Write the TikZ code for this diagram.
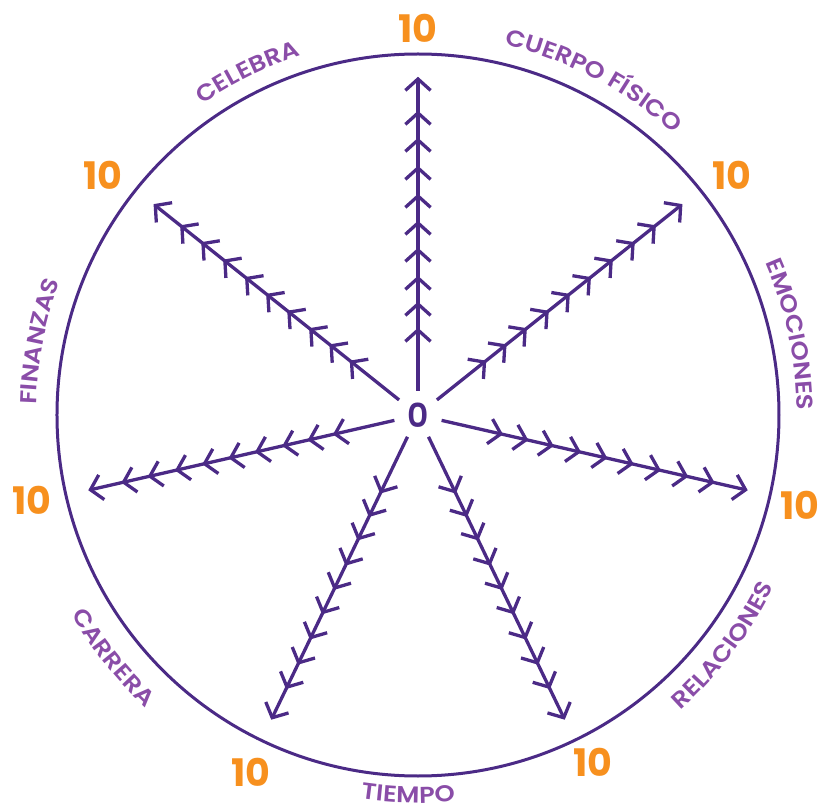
\documentclass[tikz,border=0pt]{standalone}
\usepackage{fontspec}
\setmainfont{Poppins}
\usetikzlibrary{decorations.text}
\definecolor{wheelline}{HTML}{4B2A86}
\definecolor{wheellabel}{HTML}{8A4DA8}
\definecolor{wheelorange}{HTML}{F7901E}
\newfontfamily\labelfont{Poppins}[UprightFont={* SemiBold},FakeStretch=1.12]
\newfontfamily\zerofont{Poppins}[UprightFont={* SemiBold}]
\tikzset{
  rim/.style={draw=wheelline,line width=3pt},
  spoke/.style={draw=wheelline,line width=3.3pt},
  chevron/.style={draw=wheelline,line width=3.3pt,line join=miter},
  zeronum/.style={circle,inner sep=0pt,minimum size=48pt,text=wheelline,
                  font=\zerofont\fontsize{33}{33}\selectfont},
  tennum/.style={text=wheelorange,inner sep=0pt,
                 font=\fontsize{38}{38}\selectfont\bfseries},
  arclabel/.style={decorate,decoration={text along path,text align=center,
                   text={|\color{wheellabel}\labelfont\fontsize{23}{23}\selectfont|#1}}}
}

\begin{document}
\begin{tikzpicture}[x=1pt,y=1pt]
  \useasboundingbox (-418,-396) rectangle (402,415);
  \draw[rim] (0,0) circle (361);
  \node[zeronum] (zero) at (0,0) {0};

  \foreach \k in {0,...,6}{
    \pgfmathsetmacro{\a}{90-\k*360/7}
    \coordinate (tip\k) at (\a:336);
    \draw[spoke] (zero) -- (tip\k);
    \foreach \d in {85,111,137,165,192,219,247,275,302,336}
      \draw[chevron] (\a:\d) ++(\a+132:17) -- ++(\a-48:17) -- ++(\a-132:17);
  }
  \foreach \k/\x/\y in {0/0/387,1/314/240,2/382/-90,3/175/-347,4/-167/-357,5/-386/-85,6/-315/240}
    \node[tennum] (ten\k) at (\x,\y) {10};

  \path[arclabel={CUERPO FÍSICO}] (102.3:380) arc[start angle=102.3,end angle=22.3,radius=380];
  \path[arclabel=EMOCIONES] (52.2:379) arc[start angle=52.2,end angle=-27.8,radius=379];
  \path[arclabel=FINANZAS] (209:382) arc[start angle=209,end angle=129,radius=382];
  \path[arclabel=CELEBRA] (156.4:378) arc[start angle=156.4,end angle=76.4,radius=378];
  \path[arclabel=RELACIONES] (-77:395) arc[start angle=-77,end angle=3,radius=395];
  \path[arclabel=TIEMPO] (-131.5:388) arc[start angle=-131.5,end angle=-51.5,radius=388];
  \path[arclabel=CARRERA] (-181.5:400) arc[start angle=-181.5,end angle=-101.5,radius=400];
\end{tikzpicture}
\end{document}
